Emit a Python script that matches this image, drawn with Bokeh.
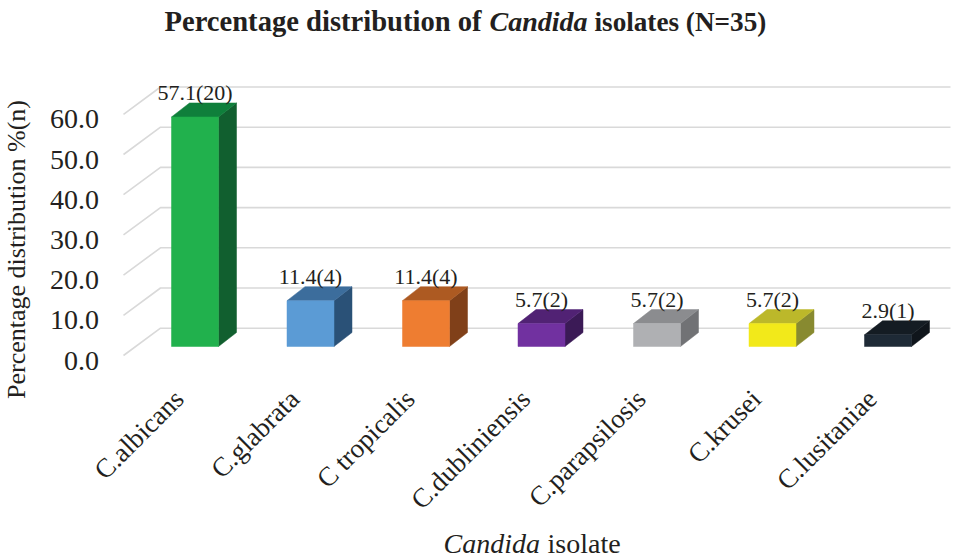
import math
from bokeh.plotting import figure
from bokeh.models import Range1d, ColumnDataSource
from bokeh.embed import file_html
from bokeh.resources import INLINE
from bokeh.core.properties import value

# ---------------- data ----------------
categories = ["C.albicans", "C.glabrata", "C tropicalis", "C.dubliniensis",
              "C.parapsilosis", "C.krusei", "C.lusitaniae"]
percent = [57.1, 11.4, 11.4, 5.7, 5.7, 5.7, 2.9]
counts = [20, 4, 4, 2, 2, 2, 1]
y_ticks = [0, 10, 20, 30, 40, 50, 60]
y_tick_labels = ["0.0", "10.0", "20.0", "30.0", "40.0", "50.0", "60.0"]

front_colors = ["#21b14d", "#5b9bd5", "#ee7d31", "#7131a0", "#afb0b3", "#f2e91a", "#1e2a36"]
top_colors = ["#0f7f3b", "#3c6d9c", "#ad5a22", "#512274", "#8b8c8f", "#bcb82a", "#141c23"]
side_colors = ["#115f2f", "#2a5177", "#804019", "#3b1a56", "#717275", "#888a30", "#0f151b"]

# ---------------- geometry of the 3D projection (page pixels) ----------------
W, H = 955, 558
PX_X, TICK0 = 115.5, 178.5                # px per category, first category tick
PX_Y, ZERO_Y = 4.02, 346                  # px per percent, bar front-face zero line

def dxp(px):
    return (px - TICK0) / PX_X

def dyp(py):
    return (ZERO_Y - py) / PX_Y

BAR_OFF = 16 / PX_X      # bar front centre relative to category tick
HALF_W = 23.5 / PX_X
DEPTH_X = 18 / PX_X
DEPTH_Y = 14 / PX_Y
WALL_X0 = dxp(160)       # back wall left edge
WALL_X1 = dxp(950)
WALL_DY = dyp(327.7)     # back wall zero level
SIDE_X0 = dxp(123)       # side wall front edge
SIDE_DY = dyp(355)       # side wall front zero level
LABEL_DY = dyp(360)      # value-axis labels zero level (front plane)

FONT = "Liberation Serif"
TXT = "#231f20"

p = figure(width=W, height=H,
           x_range=Range1d(dxp(0), dxp(W)),
           y_range=Range1d(dyp(H), dyp(0)),
           output_backend="svg", toolbar_location=None,
           x_axis_location=None, y_axis_location=None)
p.min_border_left = 0
p.min_border_right = 0
p.min_border_top = 0
p.min_border_bottom = 0
p.outline_line_color = None
p.grid.visible = False
p.background_fill_color = "white"
p.border_fill_color = "white"

# ---------------- gridlines: side wall + back wall ----------------
gx, gy = [], []
for t in y_ticks:
    gx.append([SIDE_X0, WALL_X0, WALL_X1])
    gy.append([t + SIDE_DY, t + WALL_DY, t + WALL_DY])
p.multi_line(gx, gy, line_color="#d9d9d9", line_width=1.6)

# ---------------- value axis tick labels ----------------
p.text(x=[dxp(98.5)] * len(y_ticks), y=[t + LABEL_DY for t in y_ticks], text=y_tick_labels,
       text_font=value(FONT), text_font_size="28px", text_align="right",
       text_baseline="middle", text_color=TXT)

# ---------------- category tick labels (rotated) ----------------
p.text(x=list(range(len(categories))), y=[dyp(394)] * len(categories), text=categories,
       angle=math.pi / 4, text_font=value(FONT), text_font_size="27px",
       text_align="right", text_baseline="middle", text_color=TXT)

# ---------------- 3D bars ----------------
fx, fy, tx, ty, sx, sy = [], [], [], [], [], []
for i, v in enumerate(percent):
    c = i + BAR_OFF
    l, r = c - HALF_W, c + HALF_W
    fx.append([l, r, r, l]); fy.append([0, 0, v, v])
    tx.append([l, r, r + DEPTH_X, l + DEPTH_X]); ty.append([v, v, v + DEPTH_Y, v + DEPTH_Y])
    sx.append([r, r + DEPTH_X, r + DEPTH_X, r]); sy.append([0, DEPTH_Y, v + DEPTH_Y, v])

p.patches(sx, sy, fill_color=side_colors, line_color=side_colors, line_width=0.5)
p.patches(tx, ty, fill_color=top_colors, line_color=top_colors, line_width=0.5)
p.patches(fx, fy, fill_color=front_colors, line_color=front_colors, line_width=0.5)

# ---------------- data labels ----------------
lab_src = ColumnDataSource(dict(
    x=[i + BAR_OFF for i in range(len(categories))],
    y=[v + DEPTH_Y + 10 / PX_Y for v in percent],
    t=[f"{v:.1f}({n})" for v, n in zip(percent, counts)],
))
p.text(x="x", y="y", text="t", source=lab_src, text_font=value(FONT),
       text_font_size="22px", text_align="center", text_baseline="middle",
       text_color=TXT)

# ---------------- titles ----------------
def add_text(text, px, py, size, style="normal", angle=0.0, align="left"):
    p.text(x=[dxp(px)], y=[dyp(py)], text=[text], text_font=value(FONT),
           text_font_size=size, text_font_style=value(style), text_color=TXT,
           angle=angle, text_align=align, text_baseline="middle")

add_text("Percentage distribution of", 164, 21, "28.6px", "bold")
add_text("Candida", 489, 21, "28px", "bold italic")
add_text("isolates (N=35)", 594, 21, "27.2px", "bold")

add_text("Candida", 443, 543, "28px", "italic")
add_text("isolate", 547, 543, "28px")

add_text("Percentage distribution %(n)", 15.5, 249, "26px", angle=math.pi / 2, align="center")

open("out.html", "w").write(file_html(p, INLINE))
